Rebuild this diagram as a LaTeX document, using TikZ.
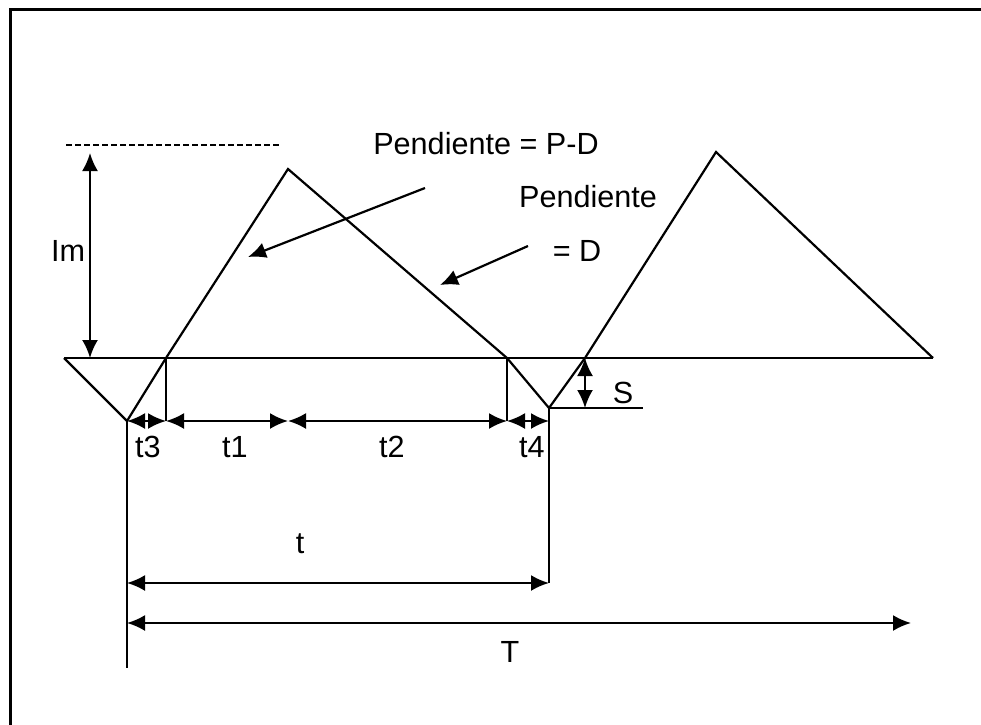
\documentclass[tikz,border=0pt]{standalone}
\usepackage{fontspec}
\setmainfont{Liberation Sans}
\usetikzlibrary{arrows.meta,positioning}
\tikzset{
	defaultstyle/.style={
		>={Latex[length=9pt,width=8pt]},
		line width=1.1pt,
		x=0.5pt, y=-0.5pt,
		font=\fontsize{15.3}{18}\selectfont}}

\begin{document}
\begin{tikzpicture}[defaultstyle,
	dim/.style={<->},
	lbl/.style={inner sep=0pt, anchor=base},
	]
	\useasboundingbox (0,0) rectangle (981,724);
	\clip (0,0) rectangle (981,724);
	\draw[line width=1.5pt] (10,9) rectangle (1000,740);
	
	% the wave
	\coordinate (a0) at (64,358);
	\coordinate (b0) at (127,421);
	\coordinate (c0) at (166,358);
	\coordinate (top1) at (288,169);
	\coordinate (c1) at (507,358);
	\coordinate (b1) at (549,408);
	\coordinate (c2) at (585,358);
	\coordinate (top2) at (716,152);
	\coordinate (e0) at (933,358);
	
	\draw (a0) -- (e0);
	\draw (a0) -- (b0) -- (c0) -- (top1) -- (c1) -- (b1) -- (c2) -- (top2) -- (e0);
	
	% Im
	\coordinate (dl0) at (66,145);
	\coordinate (dl1) at (281,145);
	\draw[dash pattern=on 3pt off 1.5pt] (dl0) -- (dl1);
	\coordinate (im0) at (90,153);
	\coordinate (im1) at (90,358);
	\draw[dim] (im0) -- (im1);
	\node[lbl] (lblIm) at (68,261) {Im};
	
	% S
	\coordinate (s1) at (585,408);
	\coordinate (s2) at (643,408);
	\draw (b1) -- (s2);
	\draw[dim] (c2) -- (s1);
	\node[lbl] (lblS) at (623,403) {S};
	
	% t1 ... t4
	\coordinate (d0) at (166,421);
	\coordinate (m0) at (288,421);
	\coordinate (d1) at (507,421);
	\coordinate (f1) at (549,421);
	\draw (c0) -- (d0);
	\draw (c1) -- (d1);
	\draw[dim] (b0) -- (d0);
	\draw[dim] (d0) -- (m0);
	\draw[dim] (m0) -- (d1);
	\draw[dim] (d1) -- (f1);
	\node[lbl] (lblt3) at (148,457) {t3};
	\node[lbl] (lblt1) at (235,457) {t1};
	\node[lbl] (lblt2) at (392,457) {t2};
	\node[lbl] (lblt4) at (532,457) {t4};
	
	% t and T
	\coordinate (g0) at (127,583);
	\coordinate (g1) at (549,583);
	\coordinate (h0) at (127,668);
	\coordinate (k0) at (127,623);
	\coordinate (k1) at (911,623);
	\draw (b0) -- (h0);
	\draw (b1) -- (g1);
	\draw[dim] (g0) -- (g1);
	\draw[dim] (k0) -- (k1);
	\node[lbl] (lblt) at (300,553) {t};
	\node[lbl] (lblT) at (510,662) {T};
	
	% slopes
	\node[lbl] (lblPD) at (486,154) {Pendiente = P-D};
	\coordinate (pd0) at (425,188);
	\coordinate (pd1) at (248,257);
	\draw[->] (pd0) -- (pd1);
	\node[lbl] (lblP) at (588,207) {Pendiente};
	\node[lbl] (lblD) at (577,261) {= D};
	\coordinate (dd0) at (528,246);
	\coordinate (dd1) at (440,285);
	\draw[->] (dd0) -- (dd1);
	
\end{tikzpicture}
\end{document}
